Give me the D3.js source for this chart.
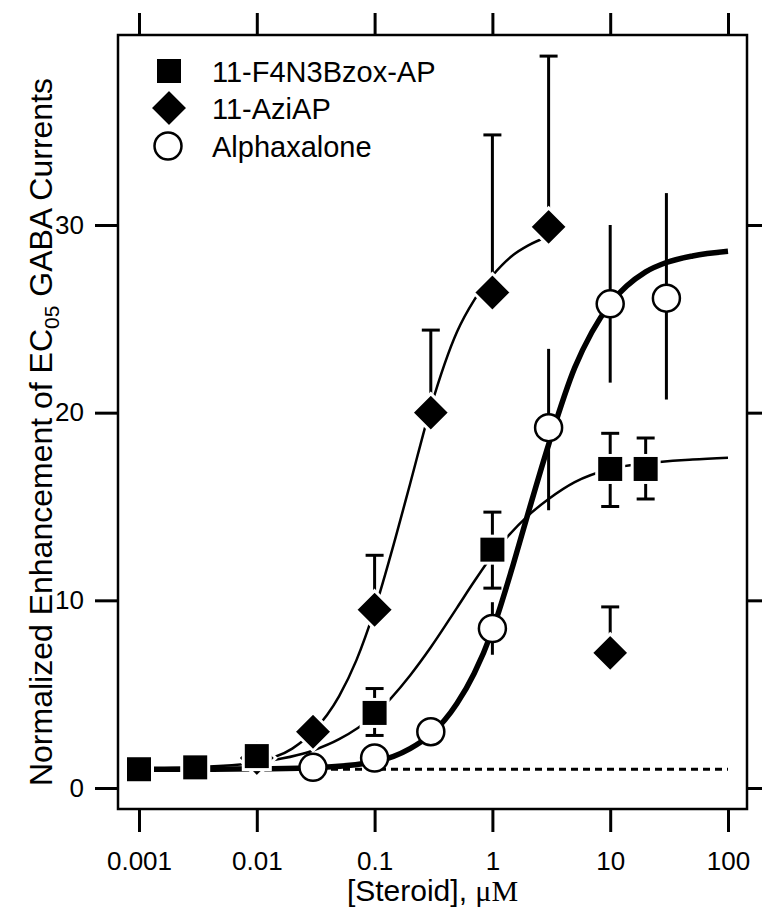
<!DOCTYPE html>
<html>
<head>
<meta charset="utf-8">
<script src="https://cdn.jsdelivr.net/npm/d3@7"></script>
<style>
  body { margin: 0; background: #fff; }
  svg { display: block; }
</style>
</head>
<body>
<div id="chart"></div>
<script>
// tick labels
var xTickVals = [0.001, 0.01, 0.1, 1, 10, 100];
var xTickLabels = ["0.001", "0.01", "0.1", "1", "10", "100"];
var yTickVals = [0, 10, 20, 30];

// 11-F4N3Bzox-AP (squares)
var sqX  = [0.001, 0.003, 0.01, 0.1, 1, 10, 20];
var sqY  = [1.0, 1.1, 1.7, 4.0, 12.7, 17.0, 17.0];
var sqHi = [null, null, null, 5.3, 14.7, 18.9, 18.65];
var sqLo = [null, null, null, 2.8, 10.65, 15.0, 15.4];

// 11-AziAP (diamonds)
var diX  = [0.01, 0.03, 0.1, 0.3, 1, 3, 10];
var diY  = [1.6, 3.0, 9.5, 20.0, 26.4, 29.9, 7.2];
var diHi = [null, null, 12.4, 24.4, 34.8, 39.0, 9.65];

// Alphaxalone (circles)
var ciX  = [0.03, 0.1, 0.3, 1, 3, 10, 30];
var ciY  = [1.1, 1.6, 3.0, 8.5, 19.2, 25.8, 26.1];
var ciHi = [null, null, null, 9.9, 23.4, 30.0, 31.7];
var ciLo = [null, null, null, 7.1, 14.8, 21.6, 20.7];

// fitted curves
var sqCurveX = [0.001, 0.003, 0.01, 0.03, 0.05, 0.1, 0.2, 0.3, 0.5, 0.7, 1, 2, 3, 5, 10, 20, 50, 100];
var sqCurveY = [1.04, 1.11, 1.35, 2.0, 2.6, 3.9, 6.0, 7.5, 9.6, 11.0, 12.4, 14.5, 15.4, 16.3, 17.0, 17.3, 17.5, 17.6];

var diCurveX = [0.01, 0.02, 0.03, 0.05, 0.07, 0.1, 0.15, 0.2, 0.3, 0.5, 0.7, 1, 1.5, 2, 3];
var diCurveY = [1.4, 2.1, 3.0, 4.9, 6.8, 9.5, 13.3, 16.2, 20.3, 24.3, 26.0, 27.3, 28.4, 28.9, 29.4];

var ciCurveX = [0.001, 0.003, 0.01, 0.03, 0.1, 0.2, 0.3, 0.5, 0.7, 1, 1.5, 2, 3, 5, 7, 10, 20, 30, 50, 100];
var ciCurveY = [1.0, 1.0, 1.02, 1.08, 1.4, 2.1, 2.85, 4.5, 6.1, 8.4, 11.9, 14.6, 18.3, 22.4, 24.3, 25.8, 27.5, 28.0, 28.35, 28.6];

var baseline = 1;

function init() {

	var width = 762;
	var height = 912;

	var left = 118, right = 747, top = 35, bottom = 809;

	var xScale = d3.scaleLog()
	               .domain([0.001, 100])
	               .range([139, 728]);

	var yScale = d3.scaleLinear()
	               .domain([0, 30])
	               .range([788, 225]);

	var svg = d3.select("#chart")
	            .append("svg")
	            .attr("width", width)
	            .attr("height", height);

	var font = "'Liberation Sans', Arial, sans-serif";

	// axes
	var xAxis = d3.axisBottom(xScale)
	              .tickValues(xTickVals)
	              .tickFormat(function(d, i) { return xTickLabels[i]; })
	              .tickSizeInner(23).tickSizeOuter(0).tickPadding(20);
	var xTop = d3.axisTop(xScale).tickValues(xTickVals).tickFormat("")
	             .tickSizeInner(22).tickSizeOuter(0);
	var yAxis = d3.axisLeft(yScale).tickValues(yTickVals)
	              .tickSizeInner(23).tickSizeOuter(0).tickPadding(11);
	var yRight = d3.axisRight(yScale).tickValues(yTickVals).tickFormat("")
	               .tickSizeInner(23).tickSizeOuter(0);

	var gx = svg.append("g").attr("transform", "translate(0," + bottom + ")").call(xAxis);
	var gt = svg.append("g").attr("transform", "translate(0," + top + ")").call(xTop);
	var gy = svg.append("g").attr("transform", "translate(" + left + ",0)").call(yAxis);
	var gr = svg.append("g").attr("transform", "translate(" + right + ",0)").call(yRight);

	[gx, gt, gy, gr].forEach(function(g) {
		g.select(".domain").remove();
		g.selectAll(".tick line").attr("stroke", "#000").attr("stroke-width", 3);
		g.selectAll(".tick text")
		 .attr("fill", "#000")
		 .attr("font-family", font)
		 .attr("font-size", "26px");
	});

	// frame
	svg.append("rect")
	   .attr("x", left)
	   .attr("y", top)
	   .attr("width", right - left)
	   .attr("height", bottom - top)
	   .attr("fill", "none")
	   .attr("stroke", "#000")
	   .attr("stroke-width", 2.5);

	// axis titles
	var xt = svg.append("text")
	   .attr("x", (left + right) / 2)
	   .attr("y", 901)
	   .attr("text-anchor", "middle")
	   .attr("font-family", font)
	   .attr("font-size", "30px");
	xt.append("tspan").text("[Steroid], ");
	xt.append("tspan").attr("font-family", "'Liberation Serif', 'Times New Roman', serif").text("\u03BCM");

	var yt = svg.append("text")
	   .attr("transform", "translate(52,432) rotate(-90)")
	   .attr("text-anchor", "middle")
	   .attr("font-family", font)
	   .attr("font-size", "32px");
	yt.append("tspan").text("Normalized Enhancement of EC");
	yt.append("tspan").attr("font-size", "21px").attr("dy", 7).text("05");
	yt.append("tspan").attr("dy", -7).text(" GABA Currents");

	// dotted baseline
	svg.append("line")
	   .attr("x1", xScale(0.001))
	   .attr("x2", xScale(100))
	   .attr("y1", yScale(baseline))
	   .attr("y2", yScale(baseline))
	   .attr("stroke", "#000")
	   .attr("stroke-width", 3)
	   .attr("stroke-dasharray", "7,5");

	// curves
	var line = d3.line()
	             .x(function(d) { return xScale(d[0]); })
	             .y(function(d) { return yScale(d[1]); })
	             .curve(d3.curveMonotoneX);

	function pairs(xs, ys) {
		return xs.map(function(x, i) { return [x, ys[i]]; });
	}

	svg.append("path").datum(pairs(sqCurveX, sqCurveY))
	   .attr("d", line).attr("fill", "none").attr("stroke", "#000").attr("stroke-width", 2.5);
	svg.append("path").datum(pairs(diCurveX, diCurveY))
	   .attr("d", line).attr("fill", "none").attr("stroke", "#000").attr("stroke-width", 2.5);
	svg.append("path").datum(pairs(ciCurveX, ciCurveY))
	   .attr("d", line).attr("fill", "none").attr("stroke", "#000").attr("stroke-width", 5.5);

	// error bars
	function errBars(xs, ys, ends, cap) {
		xs.forEach(function(x, i) {
			var e = ends[i];
			if (e == null) return;
			var cx = xScale(x);
			svg.append("line")
			   .attr("x1", cx).attr("x2", cx)
			   .attr("y1", yScale(ys[i])).attr("y2", yScale(e))
			   .attr("stroke", "#000").attr("stroke-width", 3);
			if (cap) {
				svg.append("line")
				   .attr("x1", cx - 9).attr("x2", cx + 9)
				   .attr("y1", yScale(e)).attr("y2", yScale(e))
				   .attr("stroke", "#000").attr("stroke-width", 3);
			}
		});
	}

	errBars(diX, diY, diHi, true);
	errBars(ciX, ciY, ciHi, false);
	errBars(ciX, ciY, ciLo, false);
	errBars(sqX, sqY, sqHi, true);
	errBars(sqX, sqY, sqLo, true);

	// markers
	function diamond(g, cx, cy) {
		var h = 19;
		g.append("path")
		 .attr("d", "M" + cx + "," + (cy - h) + "L" + (cx + h) + "," + cy + "L" + cx + "," + (cy + h) + "L" + (cx - h) + "," + cy + "Z")
		 .attr("fill", "#000").attr("stroke", "#fff").attr("stroke-width", 3);
	}
	function square(g, cx, cy) {
		g.append("rect")
		 .attr("x", cx - 13.5).attr("y", cy - 13.5)
		 .attr("width", 27).attr("height", 27)
		 .attr("fill", "#000").attr("stroke", "#fff").attr("stroke-width", 3);
	}
	function circle(g, cx, cy) {
		g.append("circle")
		 .attr("cx", cx).attr("cy", cy).attr("r", 13.5)
		 .attr("fill", "#fff").attr("stroke", "#000").attr("stroke-width", 2.5);
	}

	var marks = svg.append("g");
	diX.forEach(function(x, i) { diamond(marks, xScale(x), yScale(diY[i])); });
	ciX.forEach(function(x, i) { circle(marks, xScale(x), yScale(ciY[i])); });
	sqX.forEach(function(x, i) { square(marks, xScale(x), yScale(sqY[i])); });

	// legend
	var legendNames = ["11-F4N3Bzox-AP", "11-AziAP", "Alphaxalone"];
	var legendY = [71, 108, 146];
	var leg = svg.append("g");
	square(leg, 169, legendY[0]);
	diamond(leg, 169, legendY[1]);
	circle(leg, 168, legendY[2]);
	leg.selectAll("text.leg")
	   .data(legendNames)
	   .enter()
	   .append("text")
	   .attr("x", 212)
	   .attr("y", function(d, i) { return legendY[i] + 11; })
	   .attr("font-family", font)
	   .attr("font-size", "29px")
	   .text(function(d) { return d; });
}
window.onload = init;
</script>
</body>
</html>
